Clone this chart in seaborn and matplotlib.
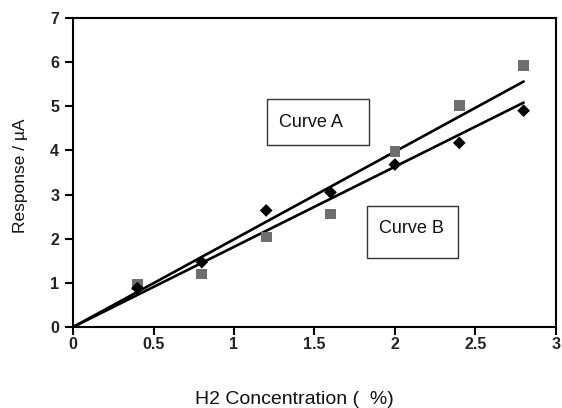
import numpy as np
import pandas as pd
import seaborn as sns
import matplotlib
matplotlib.use("Agg")
import matplotlib.pyplot as plt
from matplotlib.patches import Rectangle

# H2 concentration (%) and sensor response (µA)
conc = [0.4, 0.8, 1.2, 1.6, 2.0, 2.4, 2.8]
resp_a = [0.97, 1.20, 2.04, 2.56, 3.97, 5.02, 5.93]   # squares, Curve A
resp_b = [0.88, 1.47, 2.64, 3.05, 3.68, 4.17, 4.90]   # diamonds, Curve B
x_ticks = [0, 0.5, 1, 1.5, 2, 2.5, 3]
x_tick_labels = ["0", "0.5", "1", "1.5", "2", "2.5", "3"]
y_ticks = [0, 1, 2, 3, 4, 5, 6, 7]

sns.set_theme(style="white")
plt.rcParams["font.family"] = ["Liberation Sans", "DejaVu Sans"]

fig = plt.figure(figsize=(5.62, 4.08), dpi=100)
ax = fig.add_axes([0.130, 0.1985, 0.859, 0.7575])

df = pd.DataFrame({"x": conc, "a": resp_a, "b": resp_b})

# least-squares lines through the origin
def origin_fit(x, y):
    x = np.asarray(x); y = np.asarray(y)
    return (x * y).sum() / (x * x).sum()

xs = np.array([0.0, conc[-1]])
fit = pd.DataFrame({"x": xs,
                    "a": origin_fit(conc, resp_a) * xs,
                    "b": origin_fit(conc, resp_b) * xs})
sns.lineplot(data=fit, x="x", y="a", ax=ax, color="black", lw=1.9)
sns.lineplot(data=fit, x="x", y="b", ax=ax, color="black", lw=1.9)

sns.scatterplot(data=df, x="x", y="a", ax=ax, marker="s", s=60,
                color="#6e6e6e", edgecolor="none", zorder=3)
sns.scatterplot(data=df, x="x", y="b", ax=ax, marker="D", s=42,
                color="black", edgecolor="none", zorder=3)

ax.set_xlim(0, 3)
ax.set_ylim(0, 7)
ax.set_xticks(x_ticks)
ax.set_xticklabels(x_tick_labels)
ax.set_yticks(y_ticks)
ax.tick_params(axis="both", direction="out", length=6, width=1.5,
               color="black", labelsize=11.5, pad=4, bottom=True, left=True)
for lab in ax.get_xticklabels() + ax.get_yticklabels():
    lab.set_fontweight("bold")
    lab.set_color("#222222")
ax.tick_params(axis="x", pad=1)

for side in ax.spines.values():
    side.set_color("black")
    side.set_linewidth(1.5)

ax.set_xlabel("H2 Concentration (  %)", fontsize=14, color="#111111")
ax.set_ylabel("Response / µA", fontsize=12.5, color="#111111")
ax.xaxis.set_label_coords(0.458, -0.207)
ax.yaxis.set_label_coords(-0.094, 0.49)

# curve label boxes: (box x, box y, width, height, text x, text y, text)
boxes = [(1.207, 4.123, 0.629, 1.042, 1.478, 4.64, "Curve A"),
         (1.829, 1.563, 0.561, 1.178, 2.103, 2.24, "Curve B")]
for (x0, y0, w, h, tx, ty, txt) in boxes:
    ax.add_patch(Rectangle((x0, y0), w, h, facecolor="white",
                           edgecolor="#333333", lw=1.0, zorder=4))
    ax.text(tx, ty, txt, fontsize=13, ha="center", va="center",
            color="#111111", zorder=5)

fig.savefig("out.png", dpi=100)
